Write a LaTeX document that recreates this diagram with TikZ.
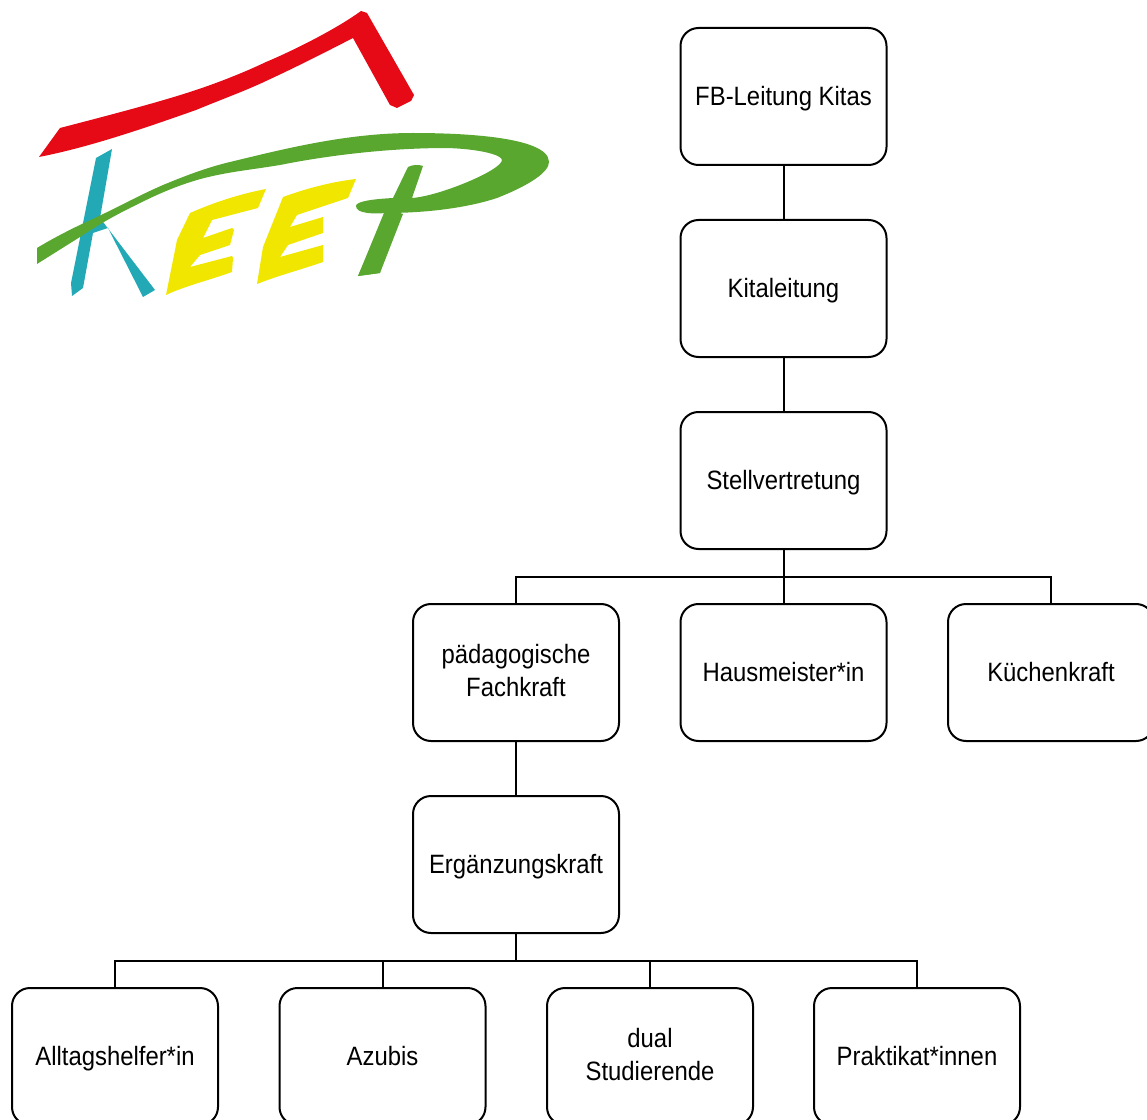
\documentclass[tikz,border=0pt]{standalone}
\usepackage{fontspec}
\setmainfont[FakeStretch=0.9]{Liberation Sans}
\definecolor{keepred}{HTML}{E50A16}
\definecolor{keepteal}{HTML}{22A9B5}
\definecolor{keepgreen}{HTML}{59A72F}
\definecolor{keepyellow}{HTML}{F0E600}
\newcommand\lstrut{\rule[-3pt]{0pt}{20pt}}
\tikzset{
 orgbox/.style={draw=black,line width=1.5pt,rounded corners=13.5pt,minimum width=154.5pt,minimum height=102.75pt,inner sep=0pt,align=center,font=\fontsize{19.9}{24.75}\selectfont,execute at begin node=\lstrut},
 link/.style={draw=black,line width=1.5pt}
}
\begin{document}
\begin{tikzpicture}[x=0.75pt,y=-0.75pt]
\useasboundingbox (0,0) rectangle (1147,1120);
\clip (0,0) rectangle (1147,1120);
\fill[keepred] (39,157) -- (60,128) .. controls (110,115) and (160,102) .. (196,90) .. controls (220,82) and (245,72) .. (266,62) .. controls (290,52) and (335,30) .. (361,11) -- (367,13) -- (414,95) -- (411,101) -- (397,108) -- (390,105) -- (353,38) .. controls (320,55) and (290,70) .. (266,81) .. controls (245,91) and (220,100) .. (196,110) .. controls (145,128) and (90,147) .. (39,157) -- cycle;
\fill[keepteal] (96,158) -- (112,149) -- (100,218) -- (155,290) -- (143,297) -- (108,228) -- (93,233) -- (83,288) -- (72,296) -- (71,283) -- cycle;
\fill[keepgreen] (37,248) .. controls (55,237) and (75,227) .. (97,217) .. controls (120,206) and (140,195) .. (163,185) .. controls (185,176) and (205,168) .. (230,162) .. controls (280,150) and (345,133) .. (413,133) .. controls (450,133) and (549,135) .. (549,162) .. controls (549,172) and (530,185) .. (497,198) .. controls (470,207) and (430,213) .. (386,213) -- (380,273) -- (358,276) -- (386,213) .. controls (375,214) and (356,214) .. (356,206) .. controls (356,201) and (375,199) .. (393,198) -- (408,167) .. controls (412,165) and (418,164) .. (423,166) -- (412,198) .. controls (440,196) and (502,170) .. (502,160) .. controls (502,155) and (480,149) .. (447,148) .. controls (390,148) and (330,155) .. (280,165) .. controls (250,170) and (225,172) .. (197,180) .. controls (170,188) and (150,198) .. (130,208) .. controls (110,218) and (95,227) .. (80,237) -- (37,264) -- cycle;
\fill[keepgreen] (386,208) -- (403,214) -- (380,273) -- (358,276) -- cycle;
\fill[keepyellow] (190,213) .. controls (215,202) and (240,194) .. (266,189) -- (258,208) -- (212,220) -- (203,238) -- (232,228) -- (234,230) -- (230,245) -- (200,255) -- (190,267) -- (232,256) -- (233,258) -- (232,272) .. controls (210,280) and (185,286) .. (166,295) -- (177,240) -- cycle;
\fill[keepyellow] (283,197) .. controls (305,189) and (330,182) .. (356,179) -- (348,198) -- (297,215) -- (290,227) -- (323,217) -- (323,233) -- (288,245) -- (280,257) -- (323,245) -- (323,262) .. controls (300,270) and (280,275) .. (257,284) -- (263,247) -- cycle;
\node[orgbox] (fb) at (783.5,96.5) {FB-Leitung Kitas};
\node[orgbox] (kl) at (783.5,288.5) {Kitaleitung};
\node[orgbox] (st) at (783.5,480.5) {Stellvertretung};
\node[orgbox] (pf) at (516,672.5) {pädagogische\\\lstrut Fachkraft};
\node[orgbox] (hm) at (783.5,672.5) {Hausmeister*in};
\node[orgbox] (kk) at (1051,672.5) {Küchenkraft};
\node[orgbox] (ek) at (516,864.5) {Ergänzungskraft};
\node[orgbox] (ah) at (115,1056.5) {Alltagshelfer*in};
\node[orgbox] (az) at (382.5,1056.5) {Azubis};
\node[orgbox] (ds) at (650,1056.5) {dual\\\lstrut Studierende};
\node[orgbox] (pk) at (917,1056.5) {Praktikat*innen};
\coordinate (bus1) at (783.5,576.5);
\coordinate (bus2) at (516,960.5);
\draw[link] (fb) -- (kl);
\draw[link] (kl) -- (st);
\draw[link] (st.south) -- (hm.north);
\draw[link] (pf.north) |- (bus1) -| (kk.north);
\draw[link] (pf) -- (ek);
\draw[link] (ek.south) -- (bus2);
\draw[link] (ah.north) |- (bus2) -| (pk.north);
\draw[link] (az.north) -- (az.north |- bus2);
\draw[link] (ds.north) -- (ds.north |- bus2);
\end{tikzpicture}
\end{document}
